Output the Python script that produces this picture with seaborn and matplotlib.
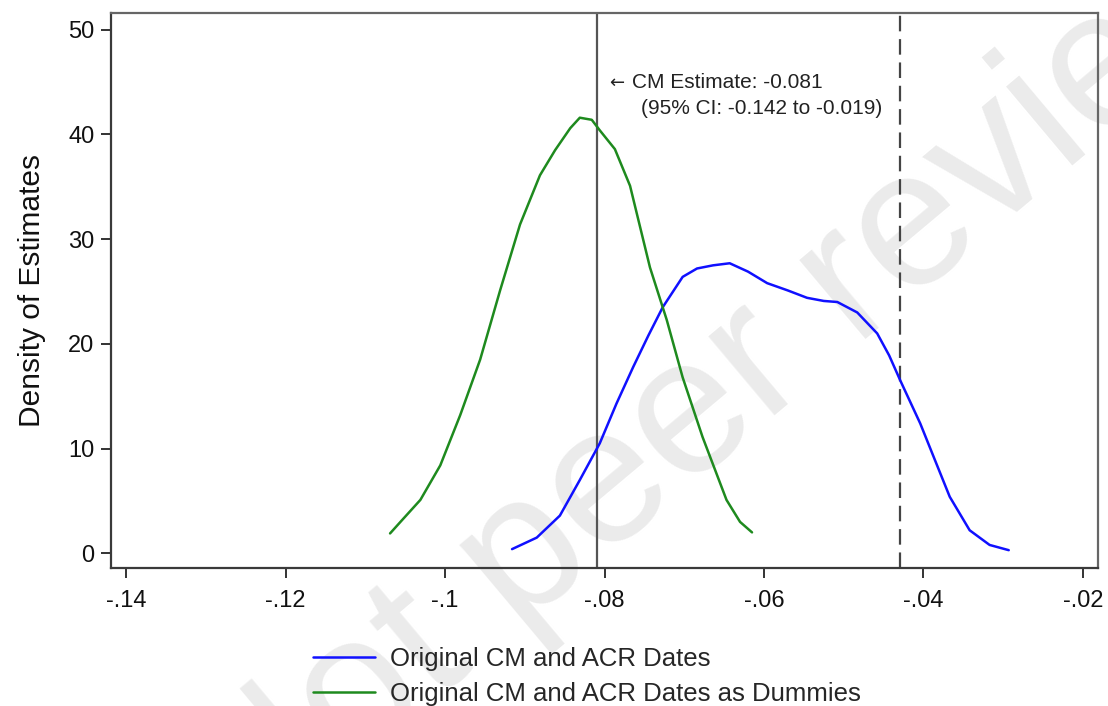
import pandas as pd
import numpy as np
import matplotlib
matplotlib.use("Agg")
import matplotlib.pyplot as plt
import seaborn as sns

# =========================
# DATA
# =========================

blue_x = [-0.0916, -0.0885, -0.0856, -0.0831, -0.0806, -0.0785, -0.0764,
          -0.0745, -0.0727, -0.0702, -0.0684, -0.0664, -0.0643, -0.0620,
          -0.0596, -0.0570, -0.0546, -0.0525, -0.0508, -0.0483, -0.0458,
          -0.0443, -0.0429, -0.0404, -0.0385, -0.0367, -0.0342, -0.0317,
          -0.0293]
blue_y = [0.4, 1.5, 3.6, 7.0, 10.5, 14.3, 17.8,
          20.8, 23.5, 26.4, 27.2, 27.5, 27.7, 26.9,
          25.8, 25.1, 24.4, 24.1, 24.0, 23.0, 21.0,
          18.9, 16.5, 12.4, 8.8, 5.4, 2.2, 0.8,
          0.3]

green_x = [-0.1069, -0.1056, -0.1031, -0.1006, -0.0981, -0.0956, -0.0931,
           -0.0906, -0.0881, -0.0862, -0.0843, -0.0831, -0.0816, -0.0806,
           -0.0787, -0.0768, -0.0743, -0.0722, -0.0702, -0.0677, -0.0647,
           -0.0630, -0.0615]
green_y = [1.9, 3.0, 5.1, 8.4, 13.2, 18.5, 25.1,
           31.4, 36.1, 38.5, 40.6, 41.6, 41.4, 40.4,
           38.6, 35.1, 27.3, 22.3, 16.8, 11.1, 5.1,
           3.0, 2.0]

series_names = ["Original CM and ACR Dates",
                "Original CM and ACR Dates as Dummies"]
series_colors = ["#1010ff", "#1e8a1e"]

cm_estimate = -0.081
dashed_ref = -0.043

x_ticks = [-0.14, -0.12, -0.10, -0.08, -0.06, -0.04, -0.02]
x_tick_labels = ["-.14", "-.12", "-.1", "-.08", "-.06", "-.04", "-.02"]
y_ticks = [0, 10, 20, 30, 40, 50]

df = pd.concat([
    pd.DataFrame({"est": blue_x, "dens": blue_y, "series": series_names[0]}),
    pd.DataFrame({"est": green_x, "dens": green_y, "series": series_names[1]}),
], ignore_index=True)

# =========================
# PLOT
# =========================

sns.set_style("white")
plt.rcParams["font.family"] = ["Liberation Sans", "DejaVu Sans"]

fig = plt.figure(figsize=(11.08, 7.06), dpi=100)
ax = fig.add_axes([0.1002, 0.1955, 0.8908, 0.7861])

# watermark behind everything
ax.text(0.736, 0.553, "Not peer reviewed", transform=fig.transFigure,
        fontsize=140, color="#ebebeb", rotation=40,
        ha="center", va="center", zorder=0, clip_on=False)
ax.patch.set_alpha(0)

sns.lineplot(data=df, x="est", y="dens", hue="series",
             palette=dict(zip(series_names, series_colors)),
             linewidth=1.8, sort=False, estimator=None, ax=ax, zorder=3)

ax.axvline(cm_estimate, color="#555555", linewidth=1.6, zorder=2)
ax.axvline(dashed_ref, color="#444444", linewidth=1.6,
           dashes=(7, 3.5), zorder=2)

# annotation next to the CM estimate line
ax.text(-0.0794, 44.9, "\u2190", fontsize=13, color="#222222",
        ha="left", va="center", family="DejaVu Sans")
ax.text(-0.0765, 45.0, "CM Estimate: -0.081", fontsize=15,
        color="#222222", ha="left", va="center")
ax.text(-0.0754, 42.5, "(95% CI: -0.142 to -0.019)", fontsize=15,
        color="#222222", ha="left", va="center")

ax.set_xlim(-0.1419, -0.0181)
ax.set_ylim(-1.4, 51.6)
ax.set_xticks(x_ticks)
ax.set_xticklabels(x_tick_labels)
ax.set_yticks(y_ticks)

ax.set_xlabel("")
ax.set_ylabel("Density of Estimates", fontsize=21.5, color="#111111",
              labelpad=16)

ax.tick_params(axis="both", which="major", labelsize=17,
               colors="#333333", labelcolor="#111111",
               length=7, width=1.4, direction="out",
               bottom=True, left=True)
ax.tick_params(axis="x", pad=9)
ax.tick_params(axis="y", pad=5)

for side in ["left", "right", "top", "bottom"]:
    ax.spines[side].set_visible(True)
    ax.spines[side].set_color("#3a3a3a")
    ax.spines[side].set_linewidth(1.6)
ax.spines["right"].set_color("#666666")
ax.spines["top"].set_color("#666666")

handles, labels = ax.get_legend_handles_labels()
ax.legend(handles, labels, loc="upper left",
          bbox_to_anchor=(0.2825, 0.084), bbox_transform=fig.transFigure,
          frameon=False, fontsize=18.5, handlelength=2.4,
          handletextpad=0.58, labelspacing=0.45, borderpad=0,
          borderaxespad=0)

plt.savefig("out.png", dpi=100)
